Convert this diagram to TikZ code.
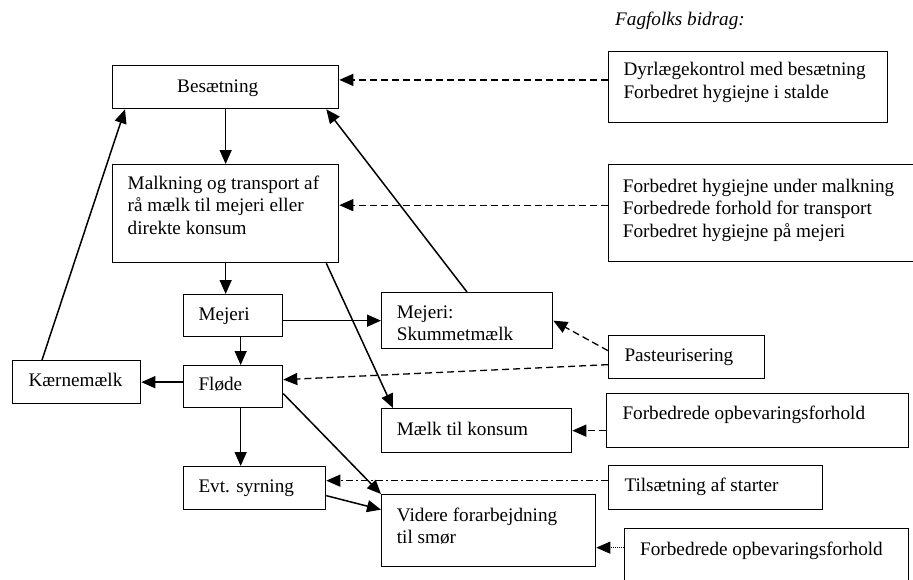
\documentclass[tikz,border=0pt]{standalone}
\usepackage{fontspec}
\setmainfont{Liberation Serif}
\usetikzlibrary{arrows.meta}
\begin{document}
\begin{tikzpicture}[x=1pt,y=-1pt,
  box/.style={draw, line width=1.3pt, inner sep=0pt, anchor=north west},
  txt/.style={inner sep=0pt, anchor=base west, align=left, font=\fontsize{19.2}{22.4}\selectfont},
  tip/.style={-{Triangle[length=14pt,width=12pt]}},
  arr/.style={tip, line width=1.5pt},
  dsh/.style={tip, line width=1.3pt, dash pattern=on 7pt off 4pt},
  dshdot/.style={tip, line width=1.3pt, dash pattern=on 7pt off 3pt on 2pt off 3pt},
  dtt/.style={tip, line width=0.8pt, dash pattern=on 1pt off 1pt}]
\useasboundingbox (0,0) rectangle (913,579);
\fill[white] (0,0) rectangle (913,579);

% boxes
\node[box, minimum width=226pt, minimum height=43pt] (bes) at (112,65) {};
\node[box, minimum width=226pt, minimum height=98pt] (malk) at (112,164) {};
\node[box, minimum width=99pt, minimum height=42pt] (mej) at (183,294) {};
\node[box, minimum width=171pt, minimum height=56pt] (skum) at (381,292) {};
\node[box, minimum width=128pt, minimum height=43pt] (kaer) at (12,360) {};
\node[box, minimum width=99pt, minimum height=42pt] (flode) at (183,365) {};
\node[box, minimum width=190pt, minimum height=44pt] (maelk) at (381,408) {};
\node[box, minimum width=142pt, minimum height=43pt] (evt) at (183,466) {};
\node[box, minimum width=214pt, minimum height=72pt] (vid) at (381,494) {};
\node[box, minimum width=279pt, minimum height=71.5pt] (dyr) at (608,50.5) {};
\node[box, minimum width=320pt, minimum height=97pt] (hyg) at (608,164) {};
\node[box, minimum width=156pt, minimum height=43pt] (past) at (608,335) {};
\node[box, minimum width=302pt, minimum height=54pt] (opb1) at (606,393) {};
\node[box, minimum width=214pt, minimum height=44pt] (til) at (608,465) {};
\node[box, minimum width=284pt, minimum height=80pt] (opb2) at (624,528) {};

% texts (anchor = baseline of the last line)
\node[txt, font=\fontsize{19.2}{22.4}\selectfont\itshape] (t-fag) at (615,25.7) {Fagfolks bidrag:};
\node[txt] (t-bes) at (177,92.5) {Besætning};
\node[txt] (t-malk) at (127.5,234) {Malkning og transport af\\rå mælk til mejeri eller\\direkte konsum};
\node[txt] (t-mej) at (198.3,320) {Mejeri};
\node[txt] (t-skum) at (396.7,340.7) {Mejeri:\\Skummetmælk};
\node[txt] (t-kaer) at (28.3,386.5) {Kærnemælk};
\node[txt] (t-flode) at (198.3,390.5) {Fløde};
\node[txt] (t-maelk) at (396.7,435) {Mælk til konsum};
\node[txt] (t-evt) at (198.3,492.3) {Evt. syrning};
\node[txt] (t-vid) at (396.7,543.5) {Videre forarbejdning\\til smør};
\node[txt] (t-dyr) at (623.3,98.3) {Dyrlægekontrol med besætning\\Forbedret hygiejne i stalde};
\node[txt] (t-hyg) at (622.7,237) {Forbedret hygiejne under malkning\\Forbedrede forhold for transport\\Forbedret hygiejne på mejeri};
\node[txt] (t-past) at (624.3,361.5) {Pasteurisering};
\node[txt] (t-opb1) at (622.3,419.3) {Forbedrede opbevaringsforhold};
\node[txt] (t-til) at (624.3,491.7) {Tilsætning af starter};
\node[txt] (t-opb2) at (640,555) {Forbedrede opbevaringsforhold};

% solid flow arrows
\draw[arr] (bes.south) -- (malk.north);
\draw[arr] (malk.south) -- (malk.south |- mej.north);
\draw[arr] ([xshift=7.5pt]mej.south) -- ([xshift=7.5pt]flode.north);
\draw[arr] (mej.east |- skum.west) -- (skum.west);
\draw[arr] (flode.west |- kaer.east) -- (kaer.east);
\draw[arr] ([xshift=7.5pt]flode.south) -- ([xshift=7.5pt]flode.south |- evt.north);
\draw[arr] ([yshift=-7pt]flode.east) -- (vid.north west);
\draw[arr] ([yshift=-7.5pt]evt.east) -- ([yshift=21pt]vid.west);
\draw[arr] ([xshift=-13pt]malk.south east) -- ([xshift=12pt]maelk.north west);
\draw[arr] ([xshift=30pt]kaer.north west) -- ([xshift=13pt]bes.south west);
\draw[arr] ([xshift=86pt]skum.north west) -- ([xshift=-13pt]bes.south east);

% contributions
\coordinate (c-dyr) at ([yshift=7pt]dyr.west);
\draw[dsh] (c-dyr) -- (c-dyr -| bes.east);
\coordinate (c-hyg) at ([yshift=8pt]hyg.west);
\draw[dsh] (c-hyg) -- (c-hyg -| malk.east);
\draw[dsh] ([yshift=6.5pt]past.west) -- ([yshift=0pt]skum.east);
\draw[dsh] ([yshift=-7.5pt]past.west) -- ([yshift=7pt]flode.east);
\draw[dsh] (opb1.west |- maelk.east) -- (maelk.east);
\coordinate (c-til) at ([yshift=7pt]til.west);
\draw[dshdot] (c-til) -- (c-til -| evt.east);
\coordinate (c-vid) at ([yshift=-17pt]vid.east);
\draw[dtt] (opb2.west |- c-vid) -- (c-vid);
\end{tikzpicture}
\end{document}
